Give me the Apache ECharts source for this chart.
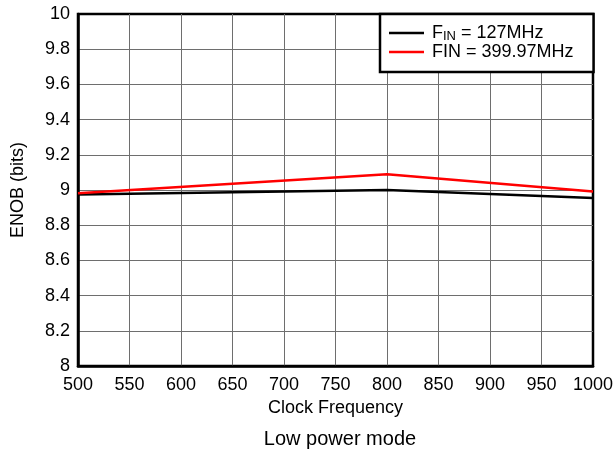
<!DOCTYPE html>
<html><head><meta charset="utf-8">
<script src="https://cdn.jsdelivr.net/npm/echarts@6/dist/echarts.min.js"></script>
<style>html,body{margin:0;padding:0;background:#fff}#c{width:613px;height:452px}</style>
</head><body><div id="c"></div>
<script>
var clockFreq = [500, 800, 1000];
var enob127 = [8.975, 9.0, 8.955];
var enob400 = [8.982, 9.09, 8.992];
var seriesNames = ['FIN = 127MHz', 'FIN = 399.97MHz'];
var F = 'Liberation Sans, Arial, Helvetica, sans-serif';
var chart = echarts.init(document.getElementById('c'));
function pairs(xs, ys){ return xs.map(function(x,i){return [x, ys[i]];}); }
chart.setOption({
  animation: false,
  backgroundColor: '#fff',
  title: { text: 'Low power mode', left: 335, top: 424, textAlign: 'center',
    textStyle: { fontFamily: F, fontSize: 20, fontWeight: 'normal', color: '#000' } },
  grid: { left: 78, right: 20, top: 14, bottom: 86, outerBoundsMode: 'none', containLabel: false,
    show: true, borderColor: '#000', borderWidth: 2.5, backgroundColor: 'transparent' },
  legend: {
    orient: 'vertical', left: 380, top: 14,
    backgroundColor: '#fff', borderColor: '#000', borderWidth: 2.5,
    padding: [9, 20, 11, 9], itemGap: 0, itemWidth: 35, itemHeight: 2.5, icon: 'rect',
    data: seriesNames,
    formatter: function(n){
      if (n === seriesNames[0]) return '{a|F}{s|IN}{a| = 127MHz}';
      return '{a|' + n + '}';
    },
    textStyle: { fontFamily: F, fontSize: 18, color: '#000', padding: [0,0,0,3],
      rich: { a: { fontFamily: F, fontSize: 18, color: '#000', lineHeight: 20 },
              s: { fontFamily: F, fontSize: 13, color: '#000', lineHeight: 20, padding: [7,0,0,0] } } }
  },
  xAxis: {
    type: 'value', min: 500, max: 1000, interval: 50,
    name: 'Clock Frequency', nameLocation: 'middle', nameGap: 28,
    nameTextStyle: { fontFamily: F, fontSize: 18, color: '#000' },
    axisLine: { show: true, lineStyle: { color: '#000', width: 2.5 } },
    axisTick: { show: false },
    axisLabel: { fontFamily: F, fontSize: 18, color: '#000', margin: 10, showMaxLabel: true,
      formatter: function(v){ return String(v); } },
    splitLine: { show: true, showMinLine: false, showMaxLine: false, lineStyle: { color: '#6e6e6e', width: 1 } }
  },
  yAxis: {
    type: 'value', min: 8, max: 10, interval: 0.2,
    name: 'ENOB (bits)', nameLocation: 'middle', nameGap: 51, nameRotate: 90,
    nameTextStyle: { fontFamily: F, fontSize: 18, color: '#000' },
    axisLine: { show: true, lineStyle: { color: '#000', width: 2.5 } },
    axisTick: { show: false },
    axisLabel: { fontFamily: F, fontSize: 18, color: '#000', margin: 8 },
    splitLine: { show: true, showMinLine: false, showMaxLine: false, lineStyle: { color: '#6e6e6e', width: 1 } }
  },
  series: [
    { name: seriesNames[0], type: 'line', data: pairs(clockFreq, enob127), showSymbol: false, symbol: 'none',
      lineStyle: { color: '#000', width: 2.5 }, itemStyle: { color: '#000' }, z: 3 },
    { name: seriesNames[1], type: 'line', data: pairs(clockFreq, enob400), showSymbol: false, symbol: 'none',
      lineStyle: { color: '#ff0000', width: 2.5 }, itemStyle: { color: '#ff0000' }, z: 4 }
  ]
});
</script></body></html>
